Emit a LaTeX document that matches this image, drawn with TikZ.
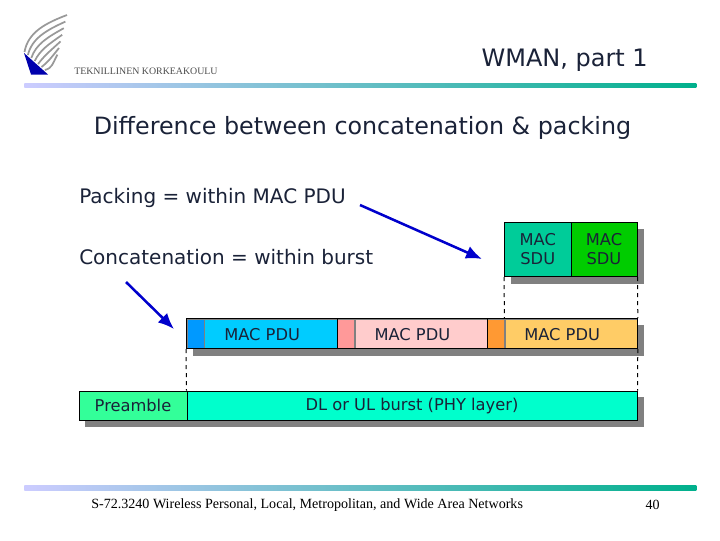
\documentclass[tikz,border=0pt]{standalone}
\usepackage{fontspec}
\setmainfont{DejaVu Sans}
\newfontfamily\footfont{Liberation Serif}
\usetikzlibrary{arrows.meta,positioning,fit,backgrounds,calc}
\definecolor{sduone}   {HTML}{00CC99}
\definecolor{sdutwo}   {HTML}{00CC00}
\definecolor{bluehead} {HTML}{0099FF}
\definecolor{bluebody} {HTML}{00CCFF}
\definecolor{redhead}  {HTML}{FF9999}
\definecolor{redbody}  {HTML}{FFCCCC}
\definecolor{orghead}  {HTML}{FF9933}
\definecolor{orgbody}  {HTML}{FFCC66}
\definecolor{preamcol} {HTML}{33FF99}
\definecolor{burstcol} {HTML}{00FFCC}
\definecolor{rulestart}{HTML}{CCCCFF}
\definecolor{ruleend}  {HTML}{00B08C}
\definecolor{arrowblue}{HTML}{0000CC}
\definecolor{shadowgray}{HTML}{808080}
\definecolor{inktext}  {HTML}{1A2238}

\begin{document}
\begin{tikzpicture}[
  x=0.75pt,y=-0.75pt,
  cell/.style={draw=black,line width=0.75pt,anchor=north west,inner sep=0pt,
               align=center,font=\fontsize{12.2}{14.3}\selectfont,text=inktext},
  part/.style={draw=gray,line width=0.6pt,anchor=north west,inner sep=0pt,
               minimum height=22pt},
  pdu/.style={draw=black,line width=0.75pt,inner sep=0pt},
  pdutxt/.style={inner sep=0pt,yshift=-1pt,font=\fontsize{12.2}{14.3}\selectfont,text=inktext},
  txt/.style={anchor=west,inner sep=0pt,text=inktext,font=\fontsize{15}{18}\selectfont},
  pointer/.style={-{Latex[length=12pt,width=10pt]},arrowblue,line width=1.9pt},
  guide/.style={dashed,line width=0.75pt},
  band/.style={left color=rulestart,right color=ruleend,draw=none}
]
\useasboundingbox (0,0) rectangle (720,540);

% Logo
\fill[arrowblue!85!black] (24,53) -- (48,74.5) -- (31,74.5) -- cycle;
\foreach \t in {0,1,...,6}{
  \draw[gray!80,line width=1.3pt] ({24.5+3.4*\t},{52+3*\t})
    .. controls ({28+4*\t},{32+6*\t}) and ({46+1*\t},{23+7*\t}) .. ({67-1.6*\t},{15+6.6*\t});
}
\node[anchor=west,inner sep=0pt,font=\footfont\fontsize{7.4}{9}\selectfont,text=black!70] (logotext) at (74,71) {TEKNILLINEN KORKEAKOULU};

% Header
\node[anchor=east,inner sep=0pt,text=inktext,font=\fontsize{18}{22}\selectfont] (header) at (648,60.5) {WMAN, part 1};
\node[band,minimum width=504pt,minimum height=3.4pt,inner sep=0pt,anchor=west] (toprule) at (24,85.5) {};
\node[anchor=center,inner sep=0pt,text=inktext,font=\fontsize{17.85}{22}\selectfont] (title) at (362.5,128) {Difference between concatenation \& packing};

% Text lines
\node[txt] (packing) at (79,198) {Packing = within MAC PDU};
\node[txt] (concat)  at (79,257) {Concatenation = within burst};

% SDU row
\node[cell,fill=sduone,minimum width=49.9pt,minimum height=40.5pt] (sduA) at (504,222) {MAC\\SDU};
\node[cell,fill=sdutwo,minimum width=49.5pt,minimum height=40.5pt] (sduB) at (570.5,222) {MAC\\SDU};

% PDU row
\node[part,fill=bluehead,minimum width=13.1pt] (headA) at (186.5,318.5) {};
\node[part,fill=bluebody,minimum width=99.7pt] (bodyA) at (204,318.5) {};
\node[part,fill=redhead,minimum width=13.1pt]  (headB) at (337,318.5) {};
\node[part,fill=redbody,minimum width=99.4pt]  (bodyB) at (354.5,318.5) {};
\node[part,fill=orghead,minimum width=13.1pt]  (headC) at (487,318.5) {};
\node[part,fill=orgbody,minimum width=99pt]    (bodyC) at (504.5,318.5) {};
\node[pdu,fit=(headA)(bodyA),label={[pdutxt]center:MAC PDU}] (pduA) {};
\node[pdu,fit=(headB)(bodyB),label={[pdutxt]center:MAC PDU}] (pduB) {};
\node[pdu,fit=(headC)(bodyC),label={[pdutxt]center:MAC PDU}] (pduC) {};

% PHY row
\node[cell,fill=preamcol,minimum width=81pt,minimum height=22pt]   (preamble) at (78.5,390.5) {Preamble};
\node[cell,fill=burstcol,minimum width=337.5pt,minimum height=22pt] (burst)   at (186.5,390.5) {DL or UL burst (PHY layer)};

% Shadows
\begin{pgfonlayer}{background}
  \fill[white] (0,0) rectangle (720,540);
  \fill[shadowgray] ($(sduA.north west)+(6.5,6.5)$) rectangle ($(sduB.south east)+(6.5,6.5)$);
  \fill[shadowgray] ($(pduA.north west)+(6.5,6.5)$) rectangle ($(pduC.south east)+(6.5,6.5)$);
  \fill[shadowgray] ($(preamble.north west)+(6.5,6.5)$) rectangle ($(burst.south east)+(6.5,6.5)$);
\end{pgfonlayer}

% Dashed guides
\draw[guide] (sduA.south west) -- (bodyC.north west);
\draw[guide] (sduB.south east) -- (pduC.north east);
\draw[guide] (pduC.south east) -- (burst.north east);
\draw[guide] (pduA.south west) -- (burst.north west);

% Arrows
\coordinate (packstart) at (360,205);
\coordinate (packend)   at (482,259);
\coordinate (constart)  at (126,282);
\coordinate (conend)    at (174,329);
\draw[pointer] (packstart) -- (packend);
\draw[pointer] (constart) -- (conend);

% Footer
\node[band,minimum width=504pt,minimum height=3.4pt,inner sep=0pt,anchor=west] (botrule) at (24,488) {};
\node[anchor=west,inner sep=0pt,font=\footfont\fontsize{10.55}{12}\selectfont] (course) at (91,505) {S-72.3240 Wireless Personal, Local, Metropolitan, and Wide Area Networks};
\node[anchor=east,inner sep=0pt,font=\footfont\fontsize{10.5}{12}\selectfont] (pagenum) at (660,505) {40};
\end{tikzpicture}
\end{document}
